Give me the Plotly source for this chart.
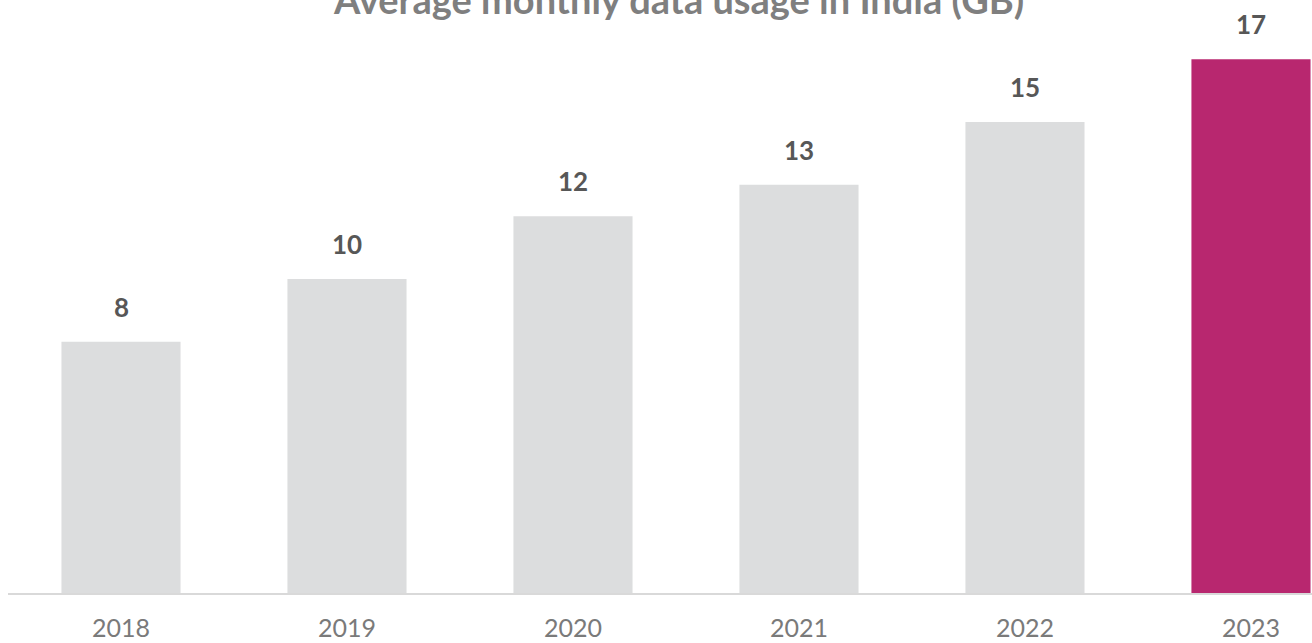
import plotly.graph_objects as go

years = ["2018", "2019", "2020", "2021", "2022", "2023"]
usage_gb = [8, 10, 12, 13, 15, 17]
bar_colors = ["#dcddde", "#dcddde", "#dcddde", "#dcddde", "#dcddde", "#b8276f"]

title_text = "Average monthly data usage in India (GB)"

fig = go.Figure()
fig.add_trace(go.Bar(x=years, y=usage_gb, marker_color=bar_colors,
                     marker_line_width=0, hoverinfo="x+y"))

# value labels above each bar (x by category index, the string would be read as a number)
for i, val in enumerate(usage_gb):
    fig.add_annotation(x=i, y=val, text=f"<b>{val}</b>", showarrow=False,
                       yanchor="bottom", yshift=17,
                       font=dict(family="Lato", size=26, color="#575757"))

# title sits partly above the top edge, as in the reference
fig.add_annotation(xref="paper", yref="paper", x=0.514, y=1, text=f"<b>{title_text}</b>",
                   showarrow=False, xanchor="center", yanchor="bottom", yshift=-24,
                   font=dict(family="Lato", size=38, color="#7f7f7f"))

fig.update_layout(
    width=1312, height=643,
    margin=dict(l=8, r=0, t=0, b=50),
    plot_bgcolor="white", paper_bgcolor="white",
    bargap=0.473,
    showlegend=False,
    font=dict(family="Lato"),
)
fig.update_xaxes(type="category", range=[-0.5, 5.27], showline=True, linecolor="#d9d9d9",
                 linewidth=2, showgrid=False, ticks="outside", ticklen=12,
                 tickcolor="rgba(0,0,0,0)", automargin=False,
                 tickfont=dict(family="Lato", size=25, color="#7a7a7a"))
fig.update_yaxes(range=[0, 18.885], visible=False, showgrid=False, automargin=False)

# drop the default page margin so the figure starts at the window corner
fig.write_html("out.html", config={"displayModeBar": False},
               post_script="document.body.style.margin='0';")
